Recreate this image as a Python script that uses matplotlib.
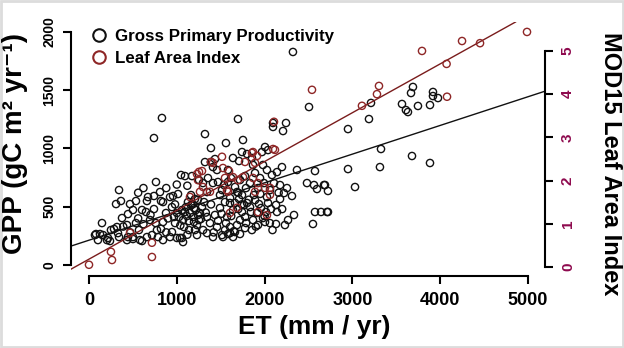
import matplotlib
matplotlib.use("Agg")
import matplotlib.pyplot as plt
from matplotlib.lines import Line2D
from matplotlib.patches import Rectangle

plt.rcParams['font.family'] = ['Liberation Sans', 'DejaVu Sans']

# ---- data: Gross Primary Productivity (ET mm/yr, GPP gC m-2 yr-1) ----
gpp_et = [2323, 831, 740, 1697, 1321, 2096, 2096, 2244, 2210, 2506,
          3212, 3189, 2950, 3690, 3668, 3565, 3610, 3633, 3747, 3884, 3918, 3918, 3975,
          3326, 3679, 3884, 2950, 3314, 3030, 2722, 2688, 2722,
          2483, 2563, 2677, 2597, 2574, 2643, 2711, 2551, 2335, 2267, 2232, 2130, 2141, 2312, 2255, 2221,
          1389, 1560, 1754, 1743, 1800, 1321, 1389, 1640, 1709, 1856, 1868, 1970, 2005, 2039,
          2369, 2574, 1982, 2027, 1458, 1583, 1412, 1435,
          342, 308, 364, 148, 80, 102, 160, 216, 239, 285, 319, 342, 376, 444, 467, 535, 501, 433, 535,
          444, 501, 569, 604, 660, 672, 604, 649, 740, 740, 820, 843, 763, 809, 695, 718, 786, 843, 877,
          923, 957, 945, 1014, 1048, 1093, 1173, 1002, 1059, 980, 945,
          68, 125, 205, 330, 433, 501, 581, 660, 774, 843, 923, 1036, 1071, 1230, 1344, 1412, 1515, 1606,
          1298, 1344, 1412, 1492, 1515, 1549, 1606, 1583, 1686, 1743, 1834, 1800, 1834, 1891, 2027, 2039,
          2062, 1982, 2005, 1914, 1868, 1720, 1686, 1606, 1549, 1526, 1458, 1378, 1344, 1264, 1640, 1743,
          1492, 1435, 1572,
          1093, 1116, 1150, 1184, 1218, 1241, 1275, 1139, 1196, 1230, 1105, 1162, 1071, 1025, 1207, 1253,
          1287, 1310, 1162, 1207, 1127, 1059, 1002, 968, 1082, 1139, 1196,
          1253, 1355, 1469, 1617, 1720, 1777, 1891, 1948, 2084, 2141, 2198, 1538, 1663, 1788, 1925, 1993,
          2107, 2176,
          1663, 1709, 1766, 1845, 1959, 2016, 2073, 2130, 2176, 1879, 1936, 1607, 1700, 1778,
          1583, 1663, 1777, 1856, 1925, 1641, 1720,
          250, 390, 470, 560, 620, 700, 760, 820, 880, 900, 980, 1040, 1120, 1180, 1240, 1300, 1330,
          1390, 1420, 1470, 1510, 1560, 1620, 1650, 1700, 1740, 1790, 1820, 1900, 1950, 2000, 2060,
          2090, 2160, 2200, 560, 620, 880, 1000, 1120]
gpp_val = [1827, 1261, 1089, 1252, 1123, 1218, 1184, 1218, 1149, 1355,
           1390, 1252, 1166, 1527, 1475, 1381, 1329, 1312, 1364, 1372, 1484, 1449, 1432,
           995, 935, 875, 823, 840, 669, 635, 686, 455,
           703, 686, 686, 652, 455, 455, 455, 352, 429, 386, 343, 352, 455, 592, 660, 617,
           1003, 1046, 1072, 969, 952, 883, 883, 918, 892, 918, 858, 969, 1012, 986,
           815, 806, 858, 815, 815, 815, 840, 909,
           643, 523, 549, 360, 266, 214, 257, 232, 206, 309, 326, 240, 403, 437, 523, 549, 472, 343, 360,
           240, 223, 300, 206, 549, 583, 472, 455, 592, 480, 549, 540, 712, 626, 386, 257, 240, 369, 446,
           583, 592, 497, 609, 772, 763, 763, 232, 232, 360, 283,
           257, 266, 214, 274, 214, 240, 214, 240, 300, 214, 240, 232, 197, 257, 274, 240, 257, 274,
           703, 626, 703, 600, 643, 540, 532, 712, 626, 600, 703, 532, 497, 557, 583, 532,
           643, 403, 369, 446, 386, 386, 343, 326, 300, 240, 326, 360, 412, 446, 472, 455,
           489, 429, 412,
           455, 420, 446, 412, 472, 429, 395, 377, 369, 343, 497, 515, 386, 412, 300, 386,
           497, 540, 600, 566, 540, 472, 446, 412, 326, 300, 489,
           729, 746, 712, 746, 729, 763, 789, 746, 772, 797, 840, 686, 669, 660, 660, 703,
           703, 686,
           532, 566, 515, 455, 489, 455, 480, 515, 566, 600, 523, 575, 480, 412,
           266, 283, 317, 300, 343, 240, 266,
           300, 330, 280, 400, 350, 430, 360, 310, 280, 400, 520, 340, 260, 520, 560, 300, 450,
           520, 280, 380, 440, 360, 420, 290, 620, 520, 360, 560, 330, 610, 420, 360,
           300, 620, 480, 620, 660, 660, 690, 680]

# ---- data: MOD15 Leaf Area Index (ET mm/yr, LAI) ----
lai_et = [0, 250, 262, 717, 717, 467,
          1150, 1264, 1298, 1241, 1230, 1253,
          1389, 1515, 1412, 1526, 1287, 1595, 1777, 1856, 1914, 1868, 1891, 2118, 2096, 2107, 2540,
          1549, 1640, 1697, 1754, 1868, 1925, 1891, 2005, 2062, 2062, 2027, 1378, 1583, 1606, 1686,
          1925, 1572,
          3793, 4249, 4454, 4989, 4073, 4078, 3303, 3280, 3109]
lai_val = [0.05, 0.35, 0.16, 0.23, 0.56, 0.79,
           1.62, 1.74, 1.85, 2.01, 2.15, 2.20,
           2.43, 2.55, 2.41, 2.29, 2.22, 2.22, 2.43, 2.64, 2.57, 2.66, 2.41, 2.71, 2.73, 3.36, 4.10,
           2.06, 2.08, 2.01, 2.08, 2.06, 1.94, 1.74, 1.83, 1.83, 1.67, 1.20, 1.74, 1.74, 1.25, 1.37,
           1.27, 1.78,
           5.00, 5.23, 5.18, 5.44, 4.70, 3.94, 4.19, 4.00, 3.73]

# linear fits: (intercept, slope per mm/yr)
gpp_fit = (213.0, 0.246)
lai_fit = (0.18, 0.00113)

x_ticks = [0, 1000, 2000, 3000, 4000, 5000]
gpp_ticks = [0, 500, 1000, 1500, 2000]
lai_ticks = [0, 1, 2, 3, 4, 5]

legend_labels = ['Gross Primary Productivity', 'Leaf Area Index']

BLACK = '#111111'
RED = '#8E2626'
LINE_RED = '#7A1C1C'
MAG = '#8E0A4E'

W, H = 624, 348
fig = plt.figure(figsize=(W / 100, H / 100), dpi=100)
ax = fig.add_axes([71 / W, 72 / H, 474 / W, 254 / H])
ax.set_xlim(-205, 5194)
ax.set_ylim(-94, 2084)
ax2 = ax.twinx()
ax2.set_ylim(-0.21, 5.67)

ax.scatter(gpp_et, gpp_val, s=27, facecolors='none', edgecolors=BLACK, linewidths=1.0, zorder=3)
ax2.scatter(lai_et, lai_val, s=27, facecolors='none', edgecolors=RED, linewidths=1.0, zorder=3)
ax.axline((0, gpp_fit[0]), slope=gpp_fit[1], color=BLACK, lw=1.0, zorder=2)
ax2.axline((0, lai_fit[0]), slope=lai_fit[1], color=LINE_RED, lw=1.0, zorder=2)

for a in (ax, ax2):
    a.spines['top'].set_visible(False)
ax.spines['right'].set_visible(False)
ax2.spines['left'].set_visible(False)
ax2.spines['bottom'].set_visible(False)
ax.spines['left'].set_bounds(0, 2000)
ax.spines['bottom'].set_bounds(0, 5000)
ax2.spines['right'].set_bounds(0, 5)
for sp in (ax.spines['left'], ax.spines['bottom'], ax2.spines['right']):
    sp.set_linewidth(1.5)

ax.set_xticks(x_ticks)
ax.set_xticklabels([str(v) for v in x_ticks], fontsize=13, fontweight='bold')
ax.set_yticks(gpp_ticks)
ax.set_yticklabels([str(v) for v in gpp_ticks], fontsize=10, fontweight='bold',
                   rotation=90, va='center')
ax2.set_yticks(lai_ticks)
ax2.set_yticklabels([str(v) for v in lai_ticks], fontsize=11, fontweight='bold',
                    rotation=90, va='center', color=MAG)
ax.tick_params(axis='x', direction='out', length=5.5, width=1.5, pad=6)
ax.tick_params(axis='y', direction='out', length=5.5, width=1.5, pad=5)
ax2.tick_params(axis='y', direction='out', length=5.5, width=1.5, pad=6)

fig.text(15 / W, 1 - 143 / H, 'GPP (gC m² yr⁻¹)', rotation=90, ha='center', va='center',
         fontsize=20, fontweight='bold')
fig.text(314 / W, 1 - 327 / H, 'ET (mm / yr)', ha='center', va='center',
         fontsize=19, fontweight='bold')
fig.text(610 / W, 1 - 164 / H, 'MOD15 Leaf Area Index', rotation=270, ha='center', va='center',
         fontsize=17, fontweight='bold')

handles = [Line2D([], [], marker='o', ls='', mfc='none', mec=BLACK, ms=9, mew=1.5),
           Line2D([], [], marker='o', ls='', mfc='none', mec=RED, ms=9, mew=1.5)]
fig.legend(handles, legend_labels, loc='upper left', bbox_to_anchor=(91 / W, 1 - 29 / H),
           frameon=False, prop={'weight': 'bold', 'size': 12.2}, handlelength=1.0,
           handletextpad=0.4, labelspacing=0.4, borderpad=0, borderaxespad=0)

fig.patches.append(Rectangle((0.002, 0.003), 0.996, 0.994, transform=fig.transFigure,
                             fill=False, ec='#dcdcdc', lw=2))

fig.savefig('out.png', dpi=100)
